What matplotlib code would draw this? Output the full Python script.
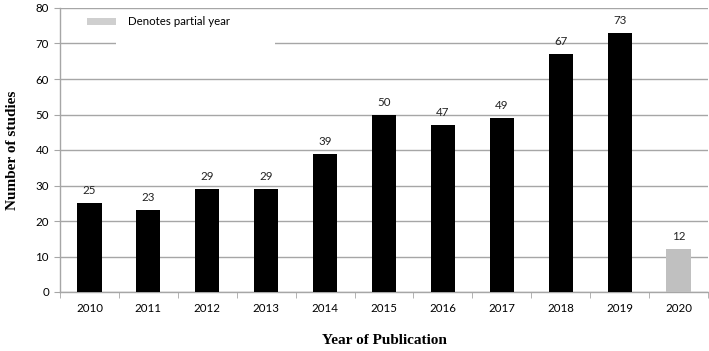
import matplotlib
matplotlib.use("Agg")
import matplotlib.pyplot as plt
from matplotlib.patches import Rectangle, Patch

years = ["2010", "2011", "2012", "2013", "2014", "2015", "2016", "2017", "2018", "2019", "2020"]
studies = [25, 23, 29, 29, 39, 50, 47, 49, 67, 73, 12]
partial = [False] * 10 + [True]

W, H = 709, 351
fig = plt.figure(figsize=(W / 100, H / 100), dpi=100)
ax = fig.add_axes([60 / W, (H - 292) / H, (708 - 60) / W, (292 - 8) / H])

tickfont = ["Lato", "DejaVu Sans"]
fs = 8.3
grid_c = "#a6a6a6"
colors = ["#c0c0c0" if p else "#000000" for p in partial]
x = list(range(len(years)))
bars = ax.bar(x, studies, width=0.41, color=colors, zorder=3)
for b, v in zip(bars, studies):
    ax.annotate(str(v), (b.get_x() + b.get_width() / 2, v), xytext=(0, 5),
                textcoords="offset points", ha="center", va="bottom",
                fontsize=fs, family=tickfont, color="#222222")

ax.set_xlim(-0.5, len(years) - 0.5)
ax.set_ylim(0, 80)
ax.set_yticks(range(0, 81, 10))
ax.set_xticks(x)
ax.set_xticklabels(years, family=tickfont, fontsize=fs)
ax.set_xticks([i - 0.5 for i in range(len(years) + 1)], minor=True)
ax.tick_params(axis="x", which="major", length=0, pad=8)
ax.tick_params(axis="x", which="minor", length=4, color=grid_c, direction="out")
ax.tick_params(axis="y", length=4, color=grid_c, pad=4)
for lab in ax.get_yticklabels():
    lab.set_family(tickfont)
    lab.set_fontsize(fs)
ax.yaxis.grid(True, color=grid_c, linewidth=1.0, zorder=0)
ax.set_axisbelow(True)
for s in ["top", "right"]:
    ax.spines[s].set_visible(False)
for s in ["left", "bottom"]:
    ax.spines[s].set_color(grid_c)
    ax.spines[s].set_linewidth(1.0)

ax.set_ylabel("Number of studies", family="Liberation Serif", fontweight="bold", fontsize=11, labelpad=12)
ax.set_xlabel("Year of Publication", family="Liberation Serif", fontweight="bold", fontsize=11, labelpad=14)

# white legend background covering gridlines
ax.add_patch(Rectangle(((116 - 60) / 648, (292 - 50) / 284), (275 - 116) / 648, 40 / 284,
                       transform=ax.transAxes, facecolor="white", edgecolor="none", zorder=1))
leg = ax.legend(handles=[Patch(facecolor="#cfcfcf", edgecolor="none", label="Denotes partial year")],
                loc="upper left", bbox_to_anchor=((80 - 60) / 648, 0.995), frameon=False,
                prop={"family": tickfont, "size": fs}, handlelength=2.5, handleheight=0.55,
                handletextpad=1.1, borderaxespad=0.2)

fig.savefig("out.png", dpi=100)
